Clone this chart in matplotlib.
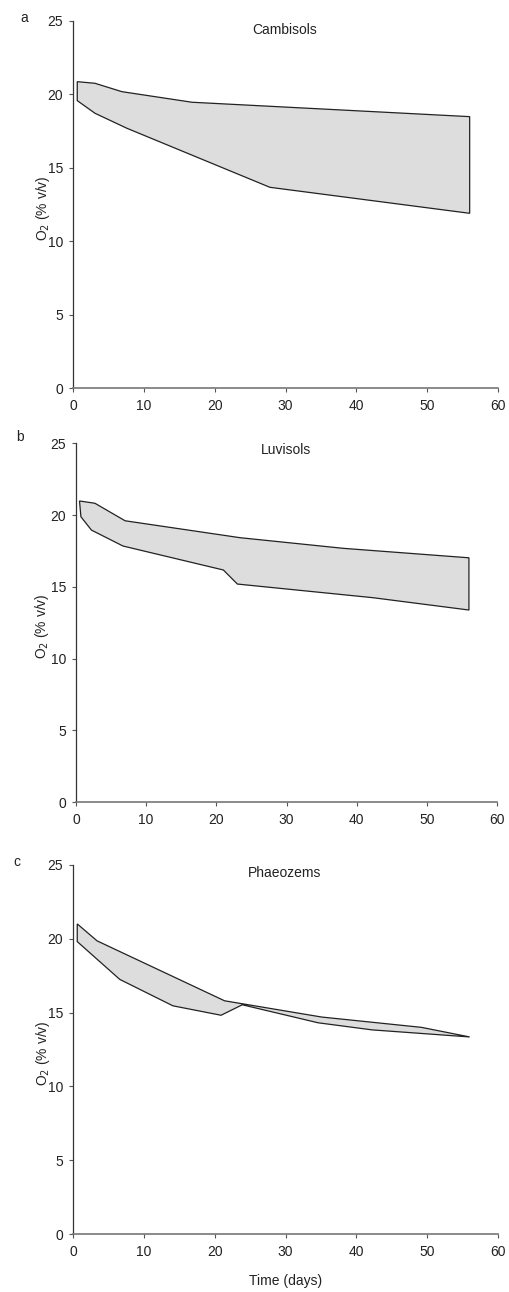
import numpy as np
import matplotlib
matplotlib.use("Agg")
import matplotlib.pyplot as plt

plt.rcParams['font.family'] = ['Liberation Sans', 'DejaVu Sans']

# Cambisols (a)
a_up_t = [0.6, 3.1, 6.9, 16.8, 56]
a_up_o2 = [20.85, 20.74, 20.17, 19.45, 18.47]
a_lo_t = [0.6, 3.1, 7.6, 27.8, 56]
a_lo_o2 = [19.56, 18.70, 17.68, 13.66, 11.89]

# Luvisols (b)
b_up_t = [0.5, 2.7, 7.0, 23.4, 38.1, 56]
b_up_o2 = [20.98, 20.82, 19.60, 18.42, 17.68, 17.02]
b_lo_t = [0.7, 2.2, 6.7, 21.0, 23.0, 42.3, 56]
b_lo_o2 = [19.88, 18.95, 17.84, 16.17, 15.19, 14.24, 13.38]

# Phaeozems (c)
c_up_t = [0.6, 3.4, 21.4, 35.1, 49.2, 56]
c_up_o2 = [21.01, 19.86, 15.8, 14.7, 14.0, 13.35]
c_lo_t = [0.6, 6.6, 14.1, 20.9, 23.9, 34.6, 42.2, 56]
c_lo_o2 = [19.81, 17.25, 15.46, 14.82, 15.53, 14.31, 13.83, 13.35]

titles = ['Cambisols', 'Luvisols', 'Phaeozems']
letters = ['a', 'b', 'c']
yticks = [0, 5, 10, 15, 20, 25]
xticks = [0, 10, 20, 30, 40, 50, 60]

W, H = 509, 1292
fs = 10
fig = plt.figure(figsize=(W/100, H/100), dpi=100)

# axes boxes in pixels: left, top, right, bottom
boxes = [(73, 20.7, 498, 388), (76, 443.3, 497, 802), (73, 865, 498, 1234)]
data = [(a_up_t, a_up_o2, a_lo_t, a_lo_o2),
        (b_up_t, b_up_o2, b_lo_t, b_lo_o2),
        (c_up_t, c_up_o2, c_lo_t, c_lo_o2)]
letter_pos = [(24, 18), (20, 437), (17, 862)]
title_y = [30, 450, 873]

for i in range(3):
    l, t, r, b = boxes[i]
    ax = fig.add_axes([l/W, 1-b/H, (r-l)/W, (b-t)/H])
    ut, uo, lt, lo = data[i]
    xs = list(ut) + list(lt[::-1])
    ys = list(uo) + list(lo[::-1])
    ax.fill(xs, ys, facecolor='#dddddd', edgecolor='#222222', linewidth=0.9)
    ax.set_xlim(0, 60)
    ax.set_ylim(0, 25)
    ax.set_xticks(xticks)
    ax.set_yticks(yticks)
    ax.spines['top'].set_visible(False)
    ax.spines['right'].set_visible(False)
    ax.spines['left'].set_color('#333333')
    ax.spines['bottom'].set_color('#777777')
    ax.spines['left'].set_linewidth(0.9)
    ax.spines['bottom'].set_linewidth(1.2)
    ax.tick_params(axis='both', labelsize=fs, length=3, width=0.8,
                   colors='#555555', labelcolor='#222222', pad=4)
    ax.tick_params(axis='x', pad=5)
    ax.set_ylabel('O$_2$ (% v/v)', fontsize=fs, color='#222222', va='center')
    ax.yaxis.set_label_coords((42.5 - l)/(r - l), 0.49)
    fig.text(((l + r)/2 - 1)/W, 1 - title_y[i]/H, titles[i], ha='center',
             va='center', fontsize=fs, color='#222222')
    fig.text(letter_pos[i][0]/W, 1-letter_pos[i][1]/H, letters[i],
             fontsize=fs, ha='center', va='center', color='#222222')
    if i == 2:
        ax.set_xlabel('Time (days)', fontsize=fs, color='#222222', labelpad=11)

fig.savefig('out.png', dpi=100)
